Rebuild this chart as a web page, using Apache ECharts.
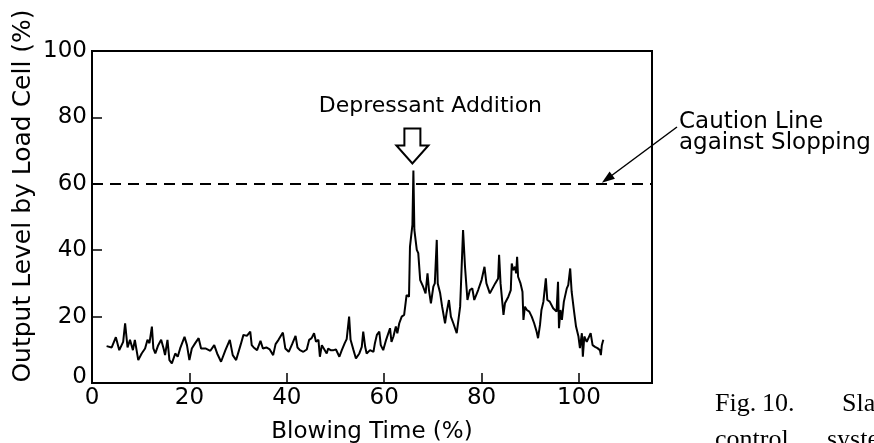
<!DOCTYPE html>
<html>
<head>
<meta charset="utf-8">
<script src="https://cdn.jsdelivr.net/npm/echarts@6/dist/echarts.min.js"></script>
<style>
  html, body { margin: 0; padding: 0; background: #fff; }
  #chart { width: 874px; height: 443px; }
</style>
</head>
<body>
<div id="chart"></div>
<script>
// Load-cell output during oxygen blowing (slopping control)
const blowTime = [
  3.0, 4.05, 4.9, 5.6, 6.4, 6.8, 7.3, 7.8, 8.4, 8.8, 9.5, 10.2, 10.9, 11.4, 11.8, 12.3, 12.6, 13.0,
  13.6, 14.2, 14.7, 15.0, 15.5, 15.9, 16.4, 17.1, 17.6, 18.1, 19.0, 19.5, 20.0, 20.5, 21.2, 21.9,
  22.4, 23.3, 24.3, 25.1, 25.7, 26.5, 27.4, 28.3, 28.9, 29.6, 30.5, 31.1, 31.8, 32.5, 32.8, 33.2,
  33.9, 34.6, 35.1, 35.8, 36.5, 37.2, 37.7, 38.3, 39.2, 39.7, 40.4, 41.1, 41.8, 42.2,
  42.7, 43.4, 44.1, 44.6, 45.1, 45.6, 46.0, 46.5, 46.8, 47.2, 47.6, 48.2, 48.5, 49.0, 49.6, 50.1,
  50.8, 51.3, 51.9, 52.3, 52.8, 53.1, 53.7, 54.2, 54.9, 55.4, 55.7, 56.1, 56.4, 57.1, 57.8, 58.1,
  58.5, 59.0, 59.3, 59.8, 60.4, 60.8, 61.2, 61.5, 61.9, 62.4, 62.7, 63.1,
  63.6, 64.1, 64.6, 65.1, 65.3, 65.8, 66.0, 66.2, 66.7, 67.0, 67.4, 68.0, 68.5, 68.9, 69.2, 69.6,
  70.1, 70.4, 70.8, 71.0, 71.5, 71.9, 72.5, 72.8, 73.3, 73.7, 74.2, 74.9, 75.6, 76.2, 76.6, 77.1,
  77.6, 78.1, 78.5, 79.3, 80.0, 80.6, 81.0, 81.7,
  82.1, 82.8, 83.4, 83.6, 83.9, 84.5, 84.8, 85.5, 86.0, 86.2, 86.5, 86.9, 87.1, 87.3, 87.5, 88.0,
  88.4, 88.6, 88.9, 89.3, 89.8, 90.3, 90.8, 91.3, 91.6, 92.0, 92.3, 92.7, 93.2, 93.5, 94.0, 94.7,
  95.4, 95.7, 95.9, 96.2, 96.5, 96.9, 97.5, 97.8, 98.2, 98.5, 99.0, 99.4, 99.9, 100.2, 100.6, 100.8,
  101.1, 101.6, 102.0, 102.4, 102.8, 103.3, 103.8, 104.3, 104.5, 104.7, 105.0
];
const loadLevel = [
  11.1, 10.7, 13.8, 9.9, 12.4, 18.0, 10.7, 13.0, 9.9, 13.0, 6.9, 8.9, 10.4, 13.0, 12.0, 17.0, 10.4, 8.9,
  11.4, 13.0, 10.4, 8.4, 13.0, 6.9, 5.9, 8.9, 7.9, 10.4, 13.9, 11.4, 6.9, 10.4, 12.0, 13.5,
  10.4, 10.4, 9.7, 11.4, 8.9, 6.4, 9.9, 13.0, 8.4, 6.9, 11.4, 14.5, 14.2, 15.5, 11.4, 10.7,
  9.9, 12.7, 10.4, 10.7, 10.1, 8.4, 11.7, 13.0, 15.2, 10.4, 9.4, 11.7, 14.2, 10.7,
  9.9, 9.4, 10.1, 13.0, 13.5, 15.0, 12.4, 13.0, 7.9, 11.4, 10.9, 8.9, 10.4, 9.9, 9.9, 10.1,
  7.9, 9.9, 12.0, 13.2, 20.0, 13.0, 9.9, 7.4, 8.9, 10.9, 15.5, 10.9, 8.9, 9.9, 9.4, 12.0,
  14.5, 15.5, 11.4, 9.9, 13.0, 13.0, 16.5, 12.4, 14.0, 17.0, 15.0, 18.0,
  20.0, 20.5, 26.5, 26.0, 41.1, 47.6, 64.0, 46.1, 40.1, 39.1, 31.0, 29.0, 27.0, 33.0, 28.0, 24.0,
  29.0, 30.0, 43.1, 30.0, 27.0, 23.0, 18.0, 21.0, 25.0, 20.0, 18.0, 15.0, 23.0, 46.1, 35.0, 25.0,
  28.0, 28.5, 25.0, 28.0, 31.0, 35.0, 30.0, 27.0,
  27.0, 30.0, 31.5, 38.6, 30.0, 20.5, 24.0, 26.0, 28.0, 36.0, 34.0, 35.0, 33.0, 38.0, 32.0, 30.0,
  27.5, 19.0, 23.0, 22.0, 21.5, 20.0, 18.0, 15.5, 13.5, 17.5, 22.0, 24.5, 31.5, 25.0, 24.5, 22.5,
  21.5, 30.5, 16.5, 22.0, 19.0, 24.5, 28.5, 29.5, 34.5, 27.5, 21.5, 17.0, 14.0, 10.5, 15.0, 7.9,
  14.0, 12.4, 13.0, 15.0, 11.4, 10.9, 10.5, 9.9, 8.4, 11.4, 13.0
];

const xTickValues = [0, 20, 40, 60, 80, 100];
const yTickValues = [0, 20, 40, 60, 80, 100];
const cautionLevel = 60;
const additionPoint = [66.0, 64.0];    // depressant added at the spike
const cautionPointerAt = [104.7, 60];  // where the leader arrow touches the caution line

const FONT = '"DejaVu Sans", sans-serif';
const SERIF = '"Liberation Serif", serif';

const chart = echarts.init(document.getElementById('chart'), null, { renderer: 'canvas' });

chart.setOption({
  animation: false,
  backgroundColor: '#fff',
  grid: {
    left: 92, top: 51, right: 222, bottom: 60,
    show: true, borderColor: '#000', borderWidth: 2,
    containLabel: false, outerBoundsMode: 'none'
  },
  xAxis: {
    type: 'value', min: 0, max: 115,
    name: 'Blowing Time (%)', nameLocation: 'middle', nameGap: 38,
    nameTextStyle: { fontFamily: FONT, fontSize: 23, color: '#000' },
    axisLine: { show: true, lineStyle: { color: '#000', width: 2 } },
    axisTick: { show: true, inside: true, length: 10, customValues: xTickValues.slice(1),
                lineStyle: { color: '#000', width: 1.5 } },
    axisLabel: { customValues: xTickValues, margin: 4, fontFamily: FONT, fontSize: 23, color: '#000' },
    splitLine: { show: false }
  },
  yAxis: {
    type: 'value', min: 0, max: 100, interval: 20,
    axisLine: { show: true, lineStyle: { color: '#000', width: 2 } },
    axisTick: { show: true, inside: true, length: 10, customValues: yTickValues.slice(1, -1),
                lineStyle: { color: '#000', width: 1.5 } },
    axisLabel: {
      customValues: yTickValues, margin: 5, fontFamily: FONT, fontSize: 23, color: '#000',
      // the origin label sits a little above the x axis line
      formatter: v => (v === 0 ? '{z|0}' : String(v)),
      rich: { z: { fontFamily: FONT, fontSize: 23, color: '#000', padding: [0, 0, 12, 0] } }
    },
    splitLine: { show: false }
  },
  series: [{
    type: 'line',
    data: blowTime.map((t, i) => [t, loadLevel[i]]),
    showSymbol: false,
    symbol: 'none',
    lineStyle: { color: '#000', width: 2 },
    silent: true,
    markLine: {
      silent: true,
      symbol: 'none',
      label: { show: false },
      lineStyle: { color: '#000', width: 2, type: [11, 7] },
      data: [{ yAxis: cautionLevel }]
    }
  }]
});

// Annotations placed from data coordinates
const addPx = chart.convertToPixel({ gridIndex: 0 }, additionPoint);
const ptrPx = chart.convertToPixel({ gridIndex: 0 }, cautionPointerAt);

const arrowTipY = addPx[1] - 7;
const ax = addPx[0] - 1;
const hollowArrow = [
  [ax - 8, arrowTipY - 35], [ax + 8, arrowTipY - 35], [ax + 8, arrowTipY - 18],
  [ax + 16, arrowTipY - 18], [ax, arrowTipY], [ax - 16, arrowTipY - 18], [ax - 8, arrowTipY - 18]
];

const leadStart = [677, 127];
const dx = ptrPx[0] - leadStart[0], dy = ptrPx[1] - 1 - leadStart[1];
const len = Math.sqrt(dx * dx + dy * dy);
const ux = dx / len, uy = dy / len;
const tip = [ptrPx[0], ptrPx[1] - 1];
const headLen = 13, headHalf = 4.5;
const base = [tip[0] - ux * headLen, tip[1] - uy * headLen];
const head = [tip, [base[0] - uy * headHalf, base[1] + ux * headHalf], [base[0] + uy * headHalf, base[1] - ux * headHalf]];

function label(text, x, y, size, align, family, extra) {
  return Object.assign({
    type: 'text', x: x, y: y, silent: true,
    style: {
      text: text, fill: '#000',
      font: size + 'px ' + (family || FONT),
      textAlign: align || 'left', textVerticalAlign: 'middle',
      align: align || 'left', verticalAlign: 'middle'
    }
  }, extra || {});
}

chart.setOption({
  graphic: [
    label('Output Level by Load Cell (%)', 23, 196, 25, 'center', null, { rotation: Math.PI / 2 }),
    label('Depressant Addition', ax + 18, 106, 22, 'center'),
    { type: 'polygon', silent: true, shape: { points: hollowArrow },
      style: { fill: '#fff', stroke: '#000', lineWidth: 2 } },
    label('Caution Line', 679, 122, 23, 'left'),
    label('against Slopping', 679, 143, 23, 'left'),
    { type: 'line', silent: true,
      shape: { x1: leadStart[0], y1: leadStart[1], x2: base[0] + ux * 2, y2: base[1] + uy * 2 },
      style: { stroke: '#000', lineWidth: 1.5 } },
    { type: 'polygon', silent: true, shape: { points: head }, style: { fill: '#000' } },
    label('Fig.', 715, 404, 26, 'left', SERIF),
    label('10.', 762, 404, 26, 'left', SERIF),
    label('Slag', 842, 404, 26, 'left', SERIF),
    label('control', 715, 440, 26, 'left', SERIF),
    label('system', 827, 440, 26, 'left', SERIF)
  ]
});
</script>
</body>
</html>
